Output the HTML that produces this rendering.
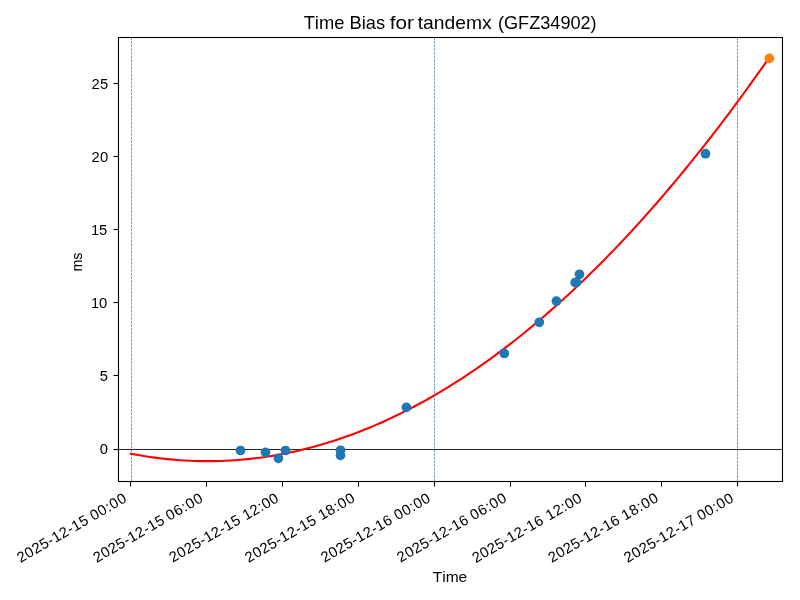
<!DOCTYPE html>
<html lang="en">
<head>
<meta charset="utf-8">
<title>Time Bias for tandemx (GFZ34902)</title>
<style>
html,body{margin:0;padding:0;background:#fff;width:800px;height:600px;overflow:hidden}
svg{display:block;will-change:transform}
text{font-family:"Liberation Sans",sans-serif;fill:#000;font-kerning:none;white-space:pre}
.t10{font-size:14.75px}
.t12{font-size:17.7px}
</style>
</head>
<body>
<svg width="800" height="600" viewBox="0 0 800 600">
<rect x="0" y="0" width="800" height="600" fill="#ffffff"/>
<line x1="118.5" y1="449.5" x2="782.5" y2="449.5" stroke="#000" stroke-width="0.85"/>
<g stroke="#1f77b4" stroke-width="0.7" stroke-dasharray="2.57 1.11" fill="none">
<line x1="131.5" y1="481.5" x2="131.5" y2="37.5"/>
<line x1="434.5" y1="481.5" x2="434.5" y2="37.5"/>
<line x1="737.5" y1="481.5" x2="737.5" y2="37.5"/>
</g>
<path d="M130.00 453.48 L135.00 454.44 L139.99 455.34 L144.99 456.17 L149.98 456.94 L154.98 457.64 L159.98 458.28 L164.97 458.85 L169.97 459.37 L174.96 459.81 L179.96 460.20 L184.96 460.52 L189.95 460.78 L194.95 460.97 L199.95 461.10 L204.94 461.16 L209.94 461.16 L214.93 461.10 L219.93 460.97 L224.93 460.78 L229.92 460.53 L234.92 460.21 L239.91 459.83 L244.91 459.38 L249.91 458.87 L254.90 458.30 L259.90 457.66 L264.89 456.96 L269.89 456.19 L274.89 455.37 L279.88 454.47 L284.88 453.52 L289.88 452.49 L294.87 451.41 L299.87 450.26 L304.86 449.05 L309.86 447.77 L314.86 446.43 L319.85 445.03 L324.85 443.56 L329.84 442.03 L334.84 440.43 L339.84 438.77 L344.83 437.05 L349.83 435.26 L354.82 433.41 L359.82 431.50 L364.82 429.52 L369.81 427.48 L374.81 425.37 L379.80 423.20 L384.80 420.96 L389.80 418.67 L394.79 416.30 L399.79 413.88 L404.79 411.39 L409.78 408.83 L414.78 406.22 L419.77 403.54 L424.77 400.79 L429.77 397.98 L434.76 395.11 L439.76 392.17 L444.75 389.17 L449.75 386.11 L454.75 382.98 L459.74 379.79 L464.74 376.53 L469.73 373.21 L474.73 369.83 L479.73 366.38 L484.72 362.87 L489.72 359.29 L494.71 355.65 L499.71 351.95 L504.71 348.18 L509.70 344.35 L514.70 340.45 L519.70 336.50 L524.69 332.47 L529.69 328.39 L534.68 324.24 L539.68 320.02 L544.68 315.74 L549.67 311.40 L554.67 307.00 L559.66 302.53 L564.66 297.99 L569.66 293.40 L574.65 288.73 L579.65 284.01 L584.64 279.22 L589.64 274.37 L594.64 269.45 L599.63 264.47 L604.63 259.43 L609.62 254.32 L614.62 249.14 L619.62 243.91 L624.61 238.61 L629.61 233.24 L634.61 227.82 L639.60 222.33 L644.60 216.77 L649.59 211.15 L654.59 205.47 L659.59 199.72 L664.58 193.91 L669.58 188.03 L674.57 182.10 L679.57 176.09 L684.57 170.03 L689.56 163.90 L694.56 157.70 L699.55 151.44 L704.55 145.12 L709.55 138.74 L714.54 132.29 L719.54 125.77 L724.54 119.20 L729.53 112.56 L734.53 105.85 L739.52 99.08 L744.52 92.25 L749.52 85.35 L754.51 78.39 L759.51 71.37 L764.50 64.28 L769.50 57.13" fill="none" stroke="#ff0000" stroke-width="2.08" stroke-linejoin="round"/>
<g fill="#1f77b4">
<circle cx="240.5" cy="450.5" r="4.86"/>
<circle cx="265.5" cy="452.4" r="4.86"/>
<circle cx="278.4" cy="458.3" r="4.86"/>
<circle cx="285.5" cy="450.5" r="4.86"/>
<circle cx="340.5" cy="450.3" r="4.86"/>
<circle cx="340.5" cy="455.4" r="4.86"/>
<circle cx="406.4" cy="407.4" r="4.86"/>
<circle cx="504.3" cy="353.45" r="4.86"/>
<circle cx="539.3" cy="322.3" r="4.86"/>
<circle cx="556.4" cy="301.2" r="4.86"/>
<circle cx="575.15" cy="282.57" r="4.86"/>
<circle cx="576.52" cy="282.37" r="4.86"/>
<circle cx="579.5" cy="274.3" r="4.86"/>
<circle cx="705.45" cy="153.7" r="4.86"/>
</g>
<circle cx="769.45" cy="58.4" r="4.86" fill="#ff7f0e"/>
<g stroke="#000" stroke-width="1.1">
<line x1="130.5" y1="481.5" x2="130.5" y2="486.5"/>
<line x1="206.5" y1="481.5" x2="206.5" y2="486.5"/>
<line x1="282.5" y1="481.5" x2="282.5" y2="486.5"/>
<line x1="358.5" y1="481.5" x2="358.5" y2="486.5"/>
<line x1="434.5" y1="481.5" x2="434.5" y2="486.5"/>
<line x1="510.5" y1="481.5" x2="510.5" y2="486.5"/>
<line x1="585.5" y1="481.5" x2="585.5" y2="486.5"/>
<line x1="661.5" y1="481.5" x2="661.5" y2="486.5"/>
<line x1="737.5" y1="481.5" x2="737.5" y2="486.5"/>
<line x1="113.5" y1="83.5" x2="118.5" y2="83.5"/>
<line x1="113.5" y1="156.5" x2="118.5" y2="156.5"/>
<line x1="113.5" y1="229.5" x2="118.5" y2="229.5"/>
<line x1="113.5" y1="302.5" x2="118.5" y2="302.5"/>
<line x1="113.5" y1="375.5" x2="118.5" y2="375.5"/>
<line x1="113.5" y1="449.5" x2="118.5" y2="449.5"/>
</g>
<rect x="118.5" y="37.5" width="664.0" height="444.0" fill="none" stroke="#000" stroke-width="1.1"/>
<text class="t12" transform="translate(303.55 29.02)"><tspan x="0.09" y="0" textLength="40.73" lengthAdjust="spacingAndGlyphs">Time</tspan> <tspan x="46.00" y="0" textLength="35.67" lengthAdjust="spacingAndGlyphs">Bias</tspan> <tspan x="86.21" y="0" textLength="24.14" lengthAdjust="spacingAndGlyphs">for</tspan> <tspan x="114.21" y="0" textLength="74.00" lengthAdjust="spacingAndGlyphs">tandemx</tspan> <tspan x="194.38" y="0" textLength="98.75" lengthAdjust="spacingAndGlyphs">(GFZ34902)</tspan></text>
<text class="t10" transform="translate(433.05 581.89)"><tspan x="-0.35" y="0" textLength="34.54" lengthAdjust="spacingAndGlyphs">Time</tspan></text>
<text class="t10" transform="translate(82.00 269.64) rotate(-90.0)"><tspan x="-1.94" y="0" textLength="18.96" lengthAdjust="spacingAndGlyphs">ms</tspan></text>
<text class="t10" transform="translate(21.41 562.55) rotate(-30.0)"><tspan x="-0.94" y="0" textLength="79.67" lengthAdjust="spacing">2025-12-15</tspan> <tspan x="83.22" y="0" textLength="39.38" lengthAdjust="spacing">00:00</tspan></text>
<text class="t10" transform="translate(97.18 562.61) rotate(-30.0)"><tspan x="-0.59" y="0" textLength="79.67" lengthAdjust="spacing">2025-12-15</tspan> <tspan x="83.21" y="0" textLength="39.90" lengthAdjust="spacing">06:00</tspan></text>
<text class="t10" transform="translate(173.05 562.61) rotate(-30.0)"><tspan x="-0.44" y="0" textLength="79.67" lengthAdjust="spacing">2025-12-15</tspan> <tspan x="84.14" y="0" textLength="38.96" lengthAdjust="spacing">12:00</tspan></text>
<text class="t10" transform="translate(248.82 562.67) rotate(-30.0)"><tspan x="-0.44" y="0" textLength="79.67" lengthAdjust="spacing">2025-12-15</tspan> <tspan x="84.12" y="0" textLength="39.48" lengthAdjust="spacing">18:00</tspan></text>
<text class="t10" transform="translate(324.80 562.61) rotate(-30.0)"><tspan x="-0.44" y="0" textLength="79.70" lengthAdjust="spacing">2025-12-16</tspan> <tspan x="84.07" y="0" textLength="38.94" lengthAdjust="spacing">00:00</tspan></text>
<text class="t10" transform="translate(400.57 562.67) rotate(-30.0)"><tspan x="0.06" y="0" textLength="79.70" lengthAdjust="spacing">2025-12-16</tspan> <tspan x="84.22" y="0" textLength="39.38" lengthAdjust="spacing">06:00</tspan></text>
<text class="t10" transform="translate(476.45 562.67) rotate(-30.0)"><tspan x="-0.94" y="0" textLength="79.70" lengthAdjust="spacing">2025-12-16</tspan> <tspan x="83.97" y="0" textLength="39.05" lengthAdjust="spacing">12:00</tspan></text>
<text class="t10" transform="translate(552.21 562.74) rotate(-30.0)"><tspan x="-0.44" y="0" textLength="79.70" lengthAdjust="spacing">2025-12-16</tspan> <tspan x="84.12" y="0" textLength="39.48" lengthAdjust="spacing">18:00</tspan></text>
<text class="t10" transform="translate(628.41 562.55) rotate(-30.0)"><tspan x="-0.94" y="0" textLength="79.81" lengthAdjust="spacing">2025-12-17</tspan> <tspan x="83.22" y="0" textLength="39.38" lengthAdjust="spacing">00:00</tspan></text>
<text class="t10" transform="translate(99.43 454.40)"><tspan x="0.39" y="0" textLength="8.73" lengthAdjust="spacing">0</tspan></text>
<text class="t10" transform="translate(99.43 381.26)"><tspan x="0.45" y="0" textLength="-2.18" lengthAdjust="spacing">5</tspan></text>
<text class="t10" transform="translate(90.55 308.12)"><tspan x="0.39" y="0" textLength="16.18" lengthAdjust="spacing">10</tspan></text>
<text class="t10" transform="translate(90.55 234.98)"><tspan x="0.39" y="0" textLength="16.22" lengthAdjust="spacing">15</tspan></text>
<text class="t10" transform="translate(90.68 161.84)"><tspan x="0.74" y="0" textLength="16.85" lengthAdjust="spacing">20</tspan></text>
<text class="t10" transform="translate(90.68 88.70)"><tspan x="0.74" y="0" textLength="16.90" lengthAdjust="spacing">25</tspan></text>
</svg>
</body>
</html>
